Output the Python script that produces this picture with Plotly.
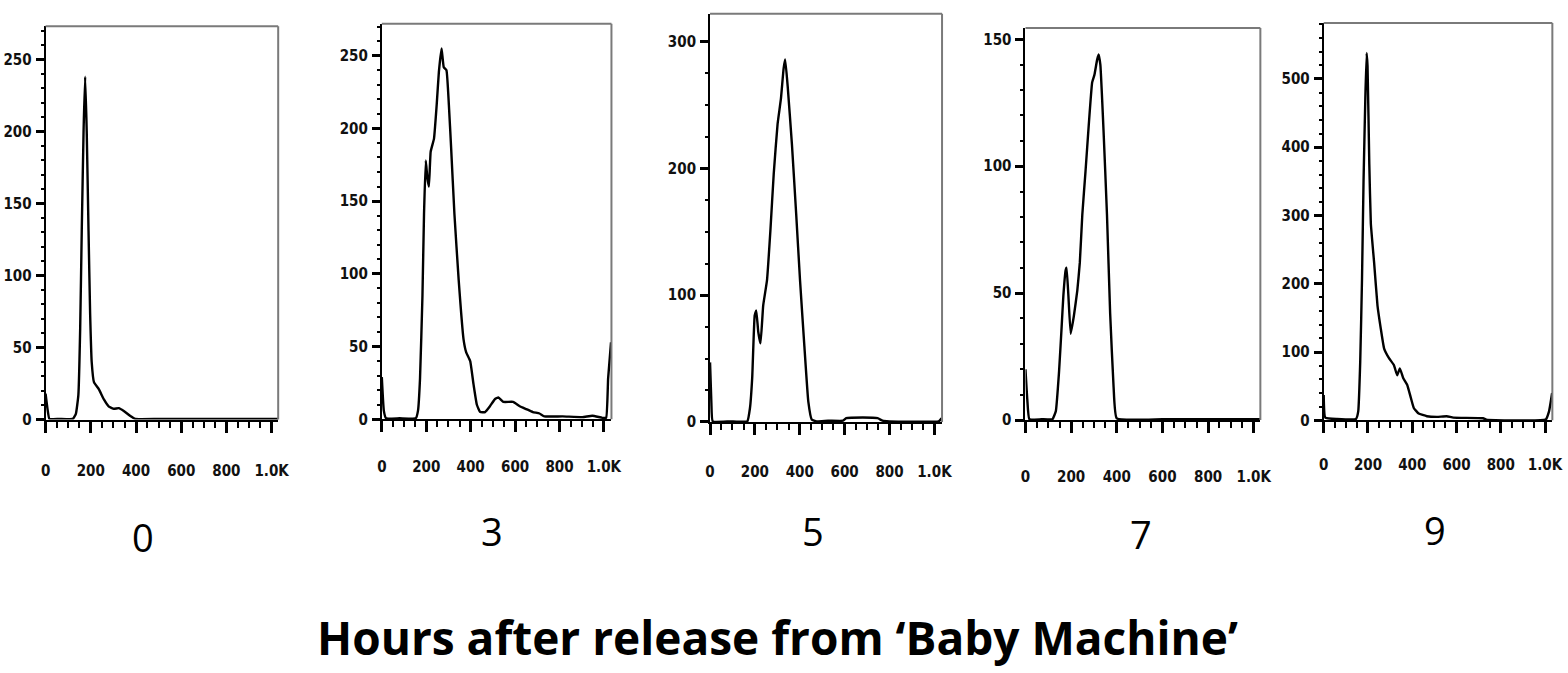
import plotly.graph_objects as go

# ---------------- data (FL2-A style DNA histograms) ----------------
hours = ["0", "3", "5", "7", "9"]

x_h0 = [0, 8, 17, 60, 120, 134, 145, 153, 160, 168, 175, 182, 190, 197, 204, 214, 236, 258, 280, 302, 324, 346, 375, 397, 500, 700, 900, 1029]
y_h0 = [18, 8, 0.5, 0.5, 0.5, 4, 17, 63, 131, 200, 238, 200, 131, 74, 40, 26, 21, 14, 9, 7.5, 8, 6, 2.5, 0.5, 0.5, 0.5, 0.5, 0.5]

x_h3 = [0, 9, 19, 80, 153, 163, 172, 183, 190, 198, 205, 212, 220, 235, 247, 257, 269, 279, 291, 302, 312, 327, 346, 368, 380, 398, 413, 428, 443, 465, 487, 510, 525, 547, 591, 621, 651, 680, 710, 732, 814, 903, 948, 993, 1010, 1019, 1032]
y_h3 = [29, 6, 0.7, 0.7, 0.7, 6, 28, 85, 141, 178, 166, 160, 184, 193, 216, 239, 255, 242, 240, 216, 187, 141, 96, 55, 46, 40, 24, 10, 5, 5, 9, 14, 15, 12, 12, 9, 7, 5, 4, 2, 2, 1.5, 2.5, 1, 1, 28, 53]

x_h5 = [0, 6, 12, 90, 166, 178, 188, 199, 206, 215, 225, 237, 254, 269, 284, 301, 316, 328, 335, 346, 365, 384, 401, 420, 438, 453, 475, 526, 593, 607, 681, 747, 769, 799, 1019, 1032]
y_h5 = [47, 15, 0.5, 0.5, 0.5, 11, 35, 84, 88, 71, 62, 92, 112, 151, 196, 235, 255, 279, 286, 265, 219, 164, 112, 61, 16, 2, 0.5, 1, 1, 3, 3.5, 3, 1, 0.5, 0.5, 3]

x_h7 = [0, 8, 17, 70, 118, 133, 147, 158, 166, 176, 180, 188, 198, 212, 227, 238, 249, 263, 277, 292, 302, 314, 321, 328, 342, 357, 371, 386, 400, 600, 800, 1029]
y_h7 = [20, 8, 0.3, 0.3, 0.3, 3.5, 19, 36, 49, 59, 60, 49, 34, 41, 51, 62, 81, 98, 116, 133, 136, 142, 144, 140, 114, 81, 42, 13, 0.6, 0.3, 0.3, 0.3]

x_h9 = [0, 7, 60, 146, 156, 165, 173, 180, 188, 194, 198, 206, 213, 228, 243, 258, 273, 295, 317, 332, 344, 359, 377, 392, 407, 429, 466, 511, 556, 586, 720, 735, 1003, 1018, 1032]
y_h9 = [37, 4, 2, 2, 13, 86, 206, 351, 471, 538, 519, 375, 288, 230, 168, 134, 105, 91, 81, 66, 76, 62, 52, 35, 18, 10, 6, 5, 6, 4, 3, 1, 1, 13, 40]

x_tickvals = [0, 200, 400, 600, 800, 1000]
x_ticktext = ["0", "200", "400", "600", "800", "1.0K"]

title_text = "Hours after release from \u2018Baby Machine\u2019"

series = [(x_h0, y_h0), (x_h3, y_h3), (x_h5, y_h5), (x_h7, y_h7), (x_h9, y_h9)]

# ---------------- layout geometry (pixels) ----------------
W, H = 1568, 673
panels = [
    dict(l=41, r=276, t=26.7, b=425.3, xmax=1029, ymax=273, dt=50, mn=10, so=25),
    dict(l=380.7, r=612.7, t=24, b=425, xmax=1034, ymax=272, dt=50, mn=10, so=22),
    dict(l=712.3, r=946.7, t=14, b=427.7, xmax=1034, ymax=322, dt=100, mn=25, so=24),
    dict(l=1031, r=1268.3, t=28.3, b=425.7, xmax=1029, ymax=154.5, dt=50, mn=10, so=31),
    dict(l=1332.3, r=1563.3, t=23.3, b=426, xmax=1033, ymax=582, dt=100, mn=20, so=19),
]
label_pos = [(139, 544), (492, 538), (816, 538), (1148, 541), (1445, 537)]

tick_font = dict(family="Liberation Sans Narrow, DejaVu Sans Condensed, Arial", size=15,
                 color="#111111", weight="bold")

fig = go.Figure()
shapes = []
annotations = []
for i, ((xs, ys), p) in enumerate(zip(series, panels)):
    n = "" if i == 0 else str(i + 1)
    fig.add_trace(go.Scatter(x=xs, y=ys, mode="lines", xaxis="x" + n, yaxis="y" + n,
                             line=dict(color="black", width=2.4, shape="spline", smoothing=0.35),
                             showlegend=False, hoverinfo="skip"))
    fig.layout["xaxis" + n] = dict(
        domain=[p["l"] / W, p["r"] / W], anchor="y" + n, range=[0, p["xmax"]],
        tickvals=x_tickvals, ticktext=x_ticktext, ticks="outside", ticklen=11, tickwidth=2.5,
        tickcolor="black", showline=True, linecolor="black", linewidth=2, showgrid=False,
        zeroline=False, tickfont=tick_font, ticklabelstandoff=p["so"],
        minor=dict(dtick=50, ticks="outside", ticklen=6, tickwidth=2, tickcolor="black"),
        fixedrange=True)
    fig.layout["yaxis" + n] = dict(
        domain=[1 - p["b"] / H, 1 - p["t"] / H], anchor="x" + n, range=[0, p["ymax"]],
        dtick=p["dt"], tick0=0, ticks="outside", ticklen=8, tickwidth=3, tickcolor="black",
        showline=True, linecolor="black", linewidth=2, showgrid=False, zeroline=False,
        tickfont=tick_font, ticklabelstandoff=1,
        minor=dict(dtick=p["mn"], tick0=0, ticks="outside", ticklen=3, tickwidth=2, tickcolor="black"),
        fixedrange=True)
    xr = "x" + n + " domain"
    yr = "y" + n + " domain"
    shapes.append(dict(type="line", xref=xr, yref=yr, x0=0, x1=1, y0=1, y1=1,
                       line=dict(color="#7a7a7a", width=2)))
    shapes.append(dict(type="line", xref=xr, yref=yr, x0=1, x1=1, y0=0, y1=1,
                       line=dict(color="#7a7a7a", width=2)))
    lx, ly = label_pos[i]
    annotations.append(dict(text=hours[i], x=lx / W, y=1 - ly / H, xref="paper", yref="paper",
                            xanchor="center", yanchor="middle", showarrow=False,
                            font=dict(family="Open Sans", size=38, color="black")))

annotations.append(dict(text="<b>" + title_text + "</b>", x=780 / W, y=1 - 646 / H,
                        xref="paper", yref="paper", xanchor="center", yanchor="middle",
                        showarrow=False, font=dict(family="Open Sans", size=46, color="black")))

fig.update_layout(width=W, height=H, margin=dict(l=0, r=0, t=0, b=0),
                  paper_bgcolor="white", plot_bgcolor="white",
                  shapes=shapes, annotations=annotations, showlegend=False)

fig.write_html("out.html", config={"displayModeBar": False})
